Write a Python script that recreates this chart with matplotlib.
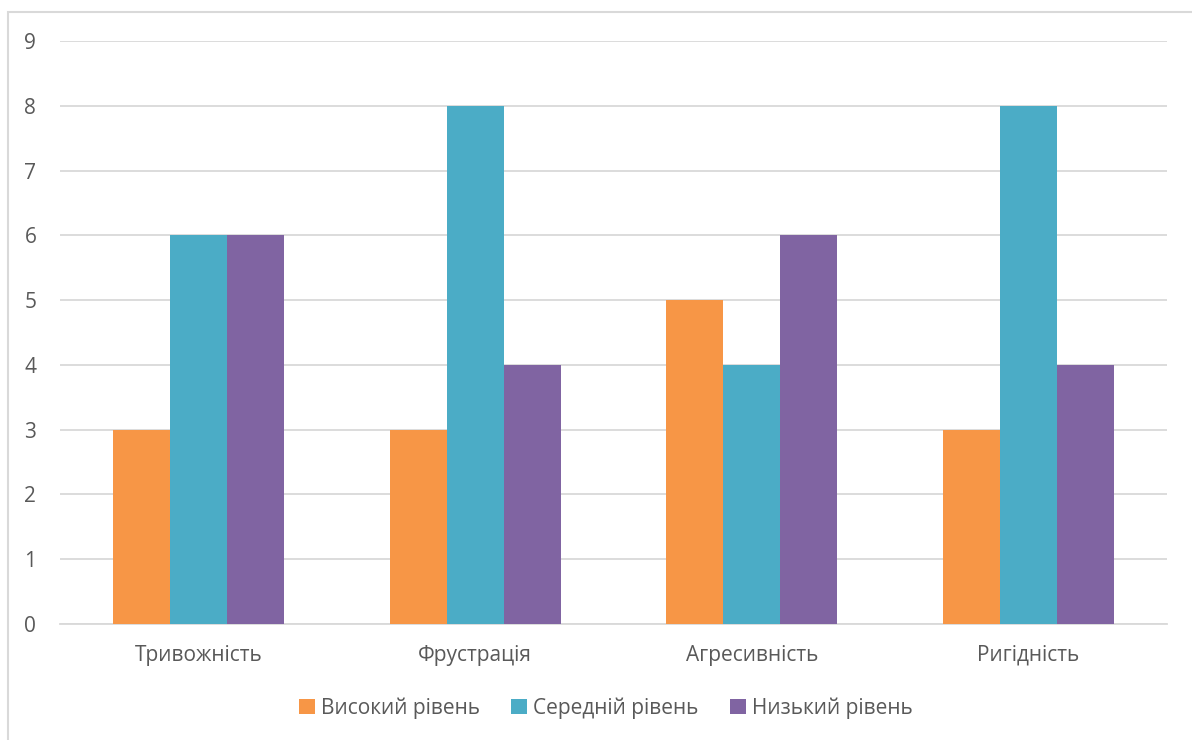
import numpy as np
import matplotlib.pyplot as plt
from matplotlib.patches import Rectangle

plt.rcParams['font.family'] = ['Open Sans', 'DejaVu Sans']

categories = ['Тривожність', 'Фрустрація', 'Агресивність', 'Ригідність']
series_names = ['Високий рівень', 'Середній рівень', 'Низький рівень']
high = [3, 3, 5, 3]
medium = [6, 8, 4, 8]
low = [6, 4, 6, 4]
colors = ['#F79646', '#4BACC6', '#8064A2']

fig = plt.figure(figsize=(11.92, 7.40), dpi=100)
ax = fig.add_axes([0.0503, 0.1568, 0.9287, 0.7878])

# light frame round the whole chart
fig.patches.append(Rectangle((8 / 1192, -0.1), 1.2, 0.1 + (740 - 12) / 740,
                             transform=fig.transFigure, fill=False,
                             edgecolor='#D9D9D9', linewidth=1.5))

x = np.arange(len(categories))
w = 0.206
for i, (vals, name) in enumerate(zip([high, medium, low], series_names)):
    ax.bar(x + (i - 1) * w, vals, width=w, color=colors[i], label=name, zorder=3)

ax.set_xlim(-0.5, len(categories) - 0.5)
ax.set_ylim(0, 9)
ax.set_yticks(range(10))
ax.yaxis.grid(True, color='#D9D9D9', linewidth=1.3, zorder=0)
for s in ['top', 'right', 'left']:
    ax.spines[s].set_visible(False)
ax.spines['bottom'].set_color('#D9D9D9')
ax.spines['bottom'].set_linewidth(1.3)
ax.tick_params(axis='both', length=0, labelsize=15, labelcolor='#595959')
ax.tick_params(axis='y', pad=17)
ax.tick_params(axis='x', pad=15)
ax.set_xticks(x)
ax.set_xticklabels(categories)

ax.legend(loc='center', bbox_to_anchor=(606 / 1192, 1 - 708 / 740),
          bbox_transform=fig.transFigure, ncol=3, frameon=False,
          fontsize=15, labelcolor='#595959', handlelength=0.75, handleheight=0.75,
          handletextpad=0.3, columnspacing=1.5)

fig.savefig('out.png', dpi=100)
